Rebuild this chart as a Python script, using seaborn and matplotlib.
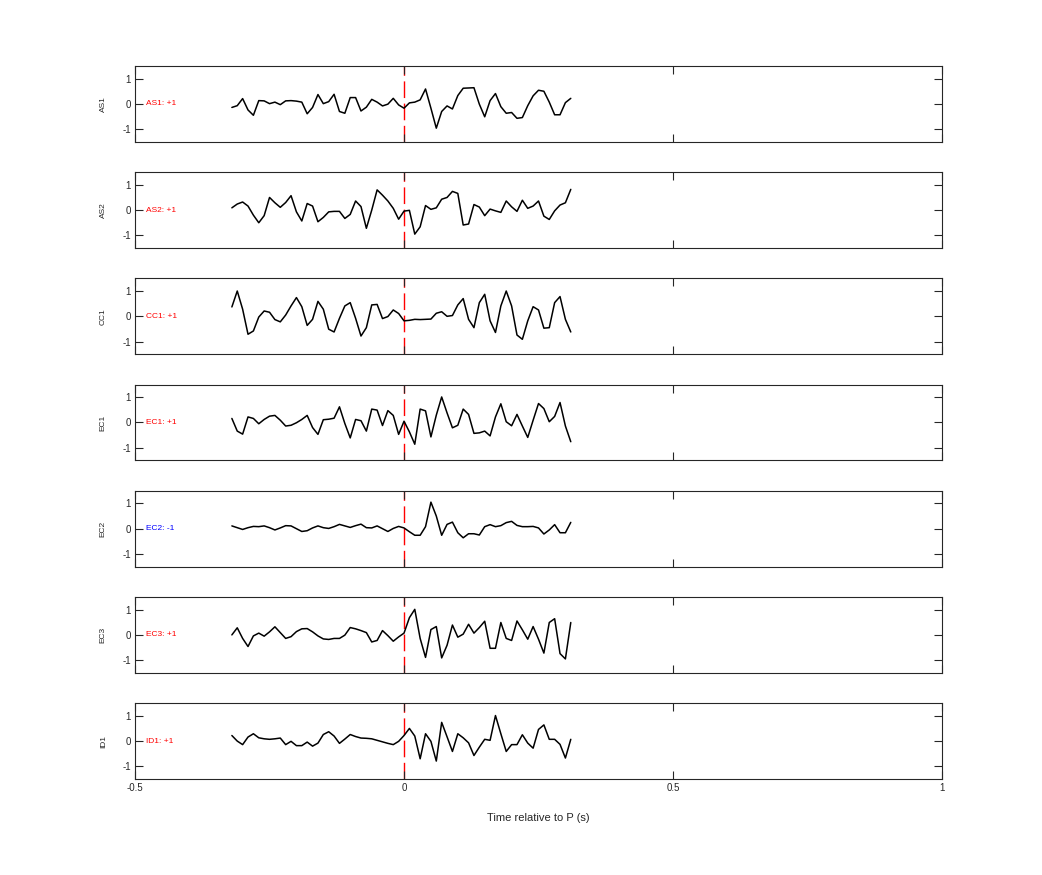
import numpy as np
import pandas as pd
import matplotlib
matplotlib.use("Agg")
import matplotlib.pyplot as plt
import seaborn as sns

# Stations and polarity picks
STATIONS = ["AS1", "AS2", "CC1", "EC1", "EC2", "EC3", "ID1"]
POLARITY = ["+1", "+1", "+1", "+1", "-1", "+1", "+1"]

# Sampling of the traces (s)
T_START = -0.32
DT = 0.01

# Normalised waveforms (64 samples each)
as1 = [-0.14, -0.07, 0.21, -0.24, -0.45, 0.13, 0.12, 0.01, 0.07, -0.03, 0.12, 0.13, 0.11, 0.07, -0.39, -0.14,
       0.37, 0.01, 0.09, 0.38, -0.30, -0.37, 0.25, 0.25, -0.28, -0.13, 0.18, 0.07, -0.08, -0.01, 0.22, -0.04,
       -0.17, 0.04, 0.07, 0.16, 0.59, -0.17, -0.96, -0.30, -0.08, -0.20, 0.33, 0.62, 0.63, 0.64, -0.01, -0.51,
       0.13, 0.41, -0.11, -0.37, -0.34, -0.57, -0.54, -0.07, 0.32, 0.54, 0.50, 0.07, -0.43, -0.43, 0.05, 0.22]
as2 = [0.09, 0.24, 0.32, 0.16, -0.20, -0.50, -0.22, 0.50, 0.29, 0.11, 0.30, 0.57, -0.07, -0.43, 0.26, 0.16,
       -0.46, -0.29, -0.07, -0.05, -0.05, -0.33, -0.17, 0.36, 0.14, -0.72, 0.00, 0.80, 0.59, 0.36, 0.07, -0.36,
       -0.04, -0.01, -0.95, -0.66, 0.18, 0.03, 0.09, 0.43, 0.50, 0.74, 0.66, -0.59, -0.55, 0.22, 0.12, -0.22,
       0.04, -0.03, -0.09, 0.36, 0.13, -0.05, 0.39, 0.07, 0.16, 0.36, -0.24, -0.37, -0.03, 0.20, 0.29, 0.82]
cc1 = [0.37, 1.00, 0.28, -0.71, -0.58, -0.03, 0.21, 0.16, -0.13, -0.22, 0.05, 0.41, 0.74, 0.38, -0.36, -0.12,
       0.59, 0.28, -0.51, -0.62, -0.08, 0.41, 0.54, -0.08, -0.78, -0.45, 0.45, 0.47, -0.09, -0.01, 0.25, 0.11,
       -0.18, -0.16, -0.12, -0.13, -0.12, -0.11, 0.12, 0.18, 0.00, 0.03, 0.45, 0.70, -0.12, -0.45, 0.54, 0.87,
       -0.18, -0.64, 0.41, 1.00, 0.41, -0.74, -0.91, -0.18, 0.38, 0.25, -0.47, -0.45, 0.54, 0.78, -0.12, -0.62]
ec1 = [0.16, -0.34, -0.46, 0.22, 0.16, -0.05, 0.12, 0.25, 0.28, 0.09, -0.14, -0.11, -0.01, 0.12, 0.28, -0.20,
       -0.47, 0.11, 0.13, 0.17, 0.62, -0.04, -0.61, 0.12, 0.07, -0.34, 0.53, 0.49, -0.12, 0.47, 0.28, -0.47,
       0.05, -0.37, -0.86, 0.53, 0.46, -0.57, 0.29, 1.01, 0.38, -0.21, -0.11, 0.53, 0.32, -0.43, -0.41, -0.34,
       -0.53, 0.22, 0.74, 0.03, -0.13, 0.32, -0.14, -0.59, 0.09, 0.75, 0.55, 0.03, 0.24, 0.79, -0.14, -0.76]
ec2 = [0.11, 0.04, -0.03, 0.04, 0.09, 0.08, 0.11, 0.04, -0.05, 0.03, 0.12, 0.11, 0.00, -0.11, -0.08, 0.03,
       0.11, 0.04, 0.01, 0.08, 0.17, 0.11, 0.05, 0.12, 0.18, 0.04, 0.03, 0.11, 0.00, -0.11, 0.01, 0.09,
       0.03, -0.12, -0.26, -0.26, 0.08, 1.05, 0.50, -0.26, 0.17, 0.26, -0.16, -0.36, -0.20, -0.20, -0.25, 0.08,
       0.16, 0.08, 0.12, 0.24, 0.29, 0.13, 0.08, 0.08, 0.09, 0.03, -0.21, -0.05, 0.16, -0.16, -0.16, 0.25]
ec3 = [0.00, 0.28, -0.14, -0.46, -0.04, 0.07, -0.05, 0.12, 0.32, 0.09, -0.14, -0.07, 0.13, 0.24, 0.25, 0.12,
       -0.04, -0.16, -0.18, -0.14, -0.14, -0.01, 0.29, 0.24, 0.17, 0.09, -0.28, -0.22, 0.17, -0.03, -0.25, -0.08,
       0.07, 0.68, 1.01, -0.14, -0.89, 0.21, 0.33, -0.91, -0.41, 0.39, -0.09, 0.03, 0.42, 0.07, 0.29, 0.54,
       -0.53, -0.53, 0.49, -0.14, -0.22, 0.55, 0.20, -0.17, 0.33, -0.17, -0.72, 0.49, 0.64, -0.74, -0.95, 0.49]
id1 = [0.22, 0.00, -0.14, 0.16, 0.29, 0.13, 0.09, 0.07, 0.09, 0.12, -0.14, -0.01, -0.18, -0.18, -0.04, -0.20,
       -0.08, 0.26, 0.37, 0.20, -0.09, 0.08, 0.26, 0.18, 0.12, 0.11, 0.09, 0.03, -0.03, -0.09, -0.14, -0.01,
       0.22, 0.50, 0.20, -0.70, 0.29, -0.01, -0.79, 0.74, 0.17, -0.41, 0.29, 0.13, -0.07, -0.57, -0.24, 0.07,
       0.03, 1.01, 0.29, -0.41, -0.14, -0.14, 0.25, -0.08, -0.28, 0.46, 0.64, 0.07, 0.07, -0.13, -0.67, 0.07]

TRACES = [as1, as2, cc1, ec1, ec2, ec3, id1]

# long table for seaborn
time = T_START + DT * np.arange(len(as1))
rows = []
for sta, tr in zip(STATIONS, TRACES):
    rows.append(pd.DataFrame({"station": sta, "time": time, "amp": tr}))
df = pd.concat(rows, ignore_index=True)

sns.set_theme(style="ticks")
plt.rcParams["font.family"] = ["Liberation Sans", "DejaVu Sans"]
plt.rcParams["axes.edgecolor"] = "#262626"
plt.rcParams["xtick.color"] = "#262626"
plt.rcParams["ytick.color"] = "#262626"
plt.rcParams["axes.linewidth"] = 0.8

fig, axes = plt.subplots(7, 1, figsize=(10.42, 8.75), dpi=100, sharex=True)
fig.subplots_adjust(left=0.1296, right=0.904, top=0.9246, bottom=0.1097, hspace=0.4)

for ax, sta, pol in zip(axes, STATIONS, POLARITY):
    sub = df[df["station"] == sta]
    ax.axvline(0, color="red", lw=1.0, dashes=(12, 4), zorder=1)
    sns.lineplot(data=sub, x="time", y="amp", color="black", lw=1.1, ax=ax, zorder=2)
    ax.set_axisbelow(False)  # ticks on top of the lines, like the original
    ax.set_xlim(-0.5, 1)
    ax.set_ylim(-1.5, 1.5)
    ax.set_yticks([-1, 0, 1])
    ax.set_yticklabels(["-1", "0", "1"])
    ax.set_xticks([-0.5, 0, 0.5, 1])
    ax.tick_params(direction="in", length=6, width=0.8, top=True, right=True,
                   labelsize=7, pad=3)
    ax.set_ylabel(sta, fontsize=6, color="#262626")
    ax.yaxis.set_label_coords(-0.035, 0.5)
    ax.set_xlabel("")
    txt_color = "blue" if pol.startswith("-") else "red"
    ax.text(-0.48, 0, f"{sta}: {pol}", color=txt_color, fontsize=6,
            ha="left", va="center")
    for s in ax.spines.values():
        s.set_visible(True)
        s.set_zorder(3)

axes[-1].set_xticklabels(["-0.5", "0", "0.5", "1"])
axes[-1].set_xlabel("Time relative to P (s)", fontsize=8, color="#262626", labelpad=14)

fig.savefig("out.png", dpi=100)
